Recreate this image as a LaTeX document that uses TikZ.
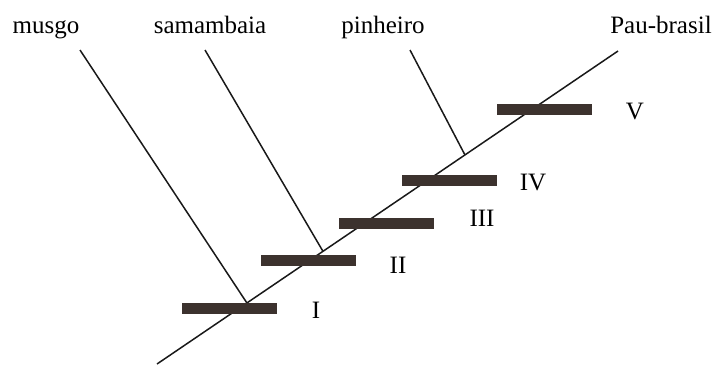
\documentclass[tikz,border=0pt]{standalone}
\usepackage{fontspec}
\setmainfont{Liberation Serif}
\usetikzlibrary{calc}
\usetikzlibrary{positioning}
\definecolor{barbrown}{RGB}{60,50,46}
\tikzset{bar/.style={draw=none, fill=barbrown, minimum width=47.5pt, minimum height=5.5pt, inner sep=0pt}}
\tikzset{taxon/.style={anchor=base, inner sep=0pt, font=\fontsize{12.5}{15}\selectfont}}
\tikzset{branch/.style={draw, line width=0.75pt, black!90}}

\begin{document}
\begin{tikzpicture}[x=0.5pt,y=-0.5pt]
\useasboundingbox (0,0) rectangle (716,365);

%main line
\coordinate (root) at (157,364);
\coordinate (tip) at (618,51);
\path[branch] (root) -- (tip);

%junctions on the main line
\coordinate (jmusgo) at ($(root)!0.195!(tip)$);
\coordinate (jsamambaia) at ($(root)!0.360!(tip)$);
\coordinate (jpinheiro) at ($(root)!0.668!(tip)$);

%taxa
\node[taxon] (musgo) at (46,33) {musgo};
\node[taxon] (samambaia) at (210,33) {samambaia};
\node[taxon] (pinheiro) at (383,33) {pinheiro};
\node[taxon] (paubrasil) at (661,33) {Pau-brasil};

%side branches
\coordinate (tmusgo) at (80,50);
\coordinate (tsamambaia) at (205,50);
\coordinate (tpinheiro) at (410,50);
\path[branch] (tmusgo) -- (jmusgo);
\path[branch] (tsamambaia) -- (jsamambaia);
\path[branch] (tpinheiro) -- (jpinheiro);

%characters
\node[bar] (barI) at (229.5,308.5) {};
\node[bar] (barII) at (308,260.5) {};
\node[bar] (barIII) at (386.5,223) {};
\node[bar] (barIV) at (449.5,180) {};
\node[bar] (barV) at (544,109.5) {};

%numerals
\node[taxon] (numI) at (316,318) {I};
\node[taxon] (numII) at (398,273) {II};
\node[taxon] (numIII) at (482,226) {III};
\node[taxon] (numIV) at (533,190) {IV};
\node[taxon] (numV) at (635,119) {V};

\end{tikzpicture}
\end{document}
